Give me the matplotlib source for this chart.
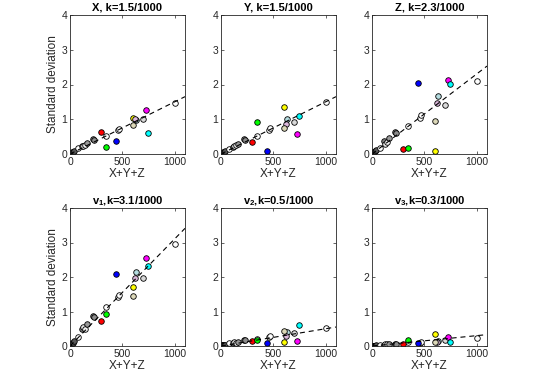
import numpy as np
import matplotlib
matplotlib.use("Agg")
import matplotlib.pyplot as plt

plt.rcParams['font.family'] = ['Liberation Sans', 'DejaVu Sans']
plt.rcParams['mathtext.fontset'] = 'custom'
plt.rcParams['mathtext.rm'] = 'Liberation Sans'
plt.rcParams['mathtext.bf'] = 'Liberation Sans:bold'

# --- data ---
# x = X+Y+Z for each sample: gray-shaded samples first, then the coloured ones
x_sum = [2, 5, 9, 14, 20, 28, 40, 77, 115, 125, 140, 160, 220, 230, 347, 458, 465, 700, 1000,
         300, 343, 440, 606, 724, 744, 635, 622, 604]
face_colors = (
    ['0.0', '0.05', '0.1', '0.15', '0.2', '0.3', '0.35', '1.0', '0.5', '0.9', '0.95', '0.6',
     '0.5', '0.55', '1.0', '1.0', '1.0', '0.85', '1.0']
    + ['#ff0000', '#00ff00', '#0000ff', '#ffff00', '#ff00ff', '#00ffff',
       '#b4dce0', '#dcb8dc', '#dcd8b8']
)

std_X = [0.01, 0.02, 0.03, 0.04, 0.05, 0.07, 0.09, 0.16, 0.22, 0.23, 0.26, 0.31, 0.42, 0.40,
         0.52, 0.70, 0.72, 1.00, 1.47,
         0.64, 0.19, 0.36, 1.04, 1.28, 0.61, 0.97, 1.02, 0.83]
std_Y = [0.01, 0.02, 0.03, 0.04, 0.05, 0.07, 0.09, 0.13, 0.20, 0.23, 0.25, 0.30, 0.42, 0.40,
         0.52, 0.69, 0.74, 0.93, 1.50,
         0.34, 0.93, 0.09, 1.34, 0.57, 1.10, 1.01, 0.85, 0.76]
std_Z = [0.01, 0.02, 0.04, 0.05, 0.07, 0.09, 0.12, 0.16, 0.38, 0.30, 0.34, 0.45, 0.64, 0.61,
         0.81, 1.03, 1.12, 1.41, 2.10,
         0.13, 0.16, 2.03, 0.10, 2.13, 2.01, 1.68, 1.46, 0.96]
std_v1 = [0.01, 0.03, 0.05, 0.06, 0.08, 0.10, 0.14, 0.27, 0.50, 0.56, 0.48, 0.63, 0.87, 0.84,
          1.12, 1.43, 1.48, 1.96, 2.95,
          0.73, 0.93, 2.10, 1.72, 2.54, 2.33, 2.14, 1.96, 1.46]
std_v2 = [0.005, 0.01, 0.015, 0.02, 0.02, 0.03, 0.04, 0.08, 0.10, 0.11, 0.10, 0.12, 0.16, 0.17,
          0.19, 0.25, 0.29, 0.37, 0.51,
          0.15, 0.18, 0.08, 0.13, 0.15, 0.61, 0.41, 0.29, 0.43]
std_v3 = [0.002, 0.004, 0.006, 0.008, 0.01, 0.012, 0.015, 0.03, 0.04, 0.05, 0.05, 0.06, 0.07, 0.07,
          0.13, 0.10, 0.12, 0.16, 0.24,
          0.05, 0.17, 0.08, 0.34, 0.27, 0.13, 0.15, 0.13, 0.12]

panels = [
    ("X, k=1.5/1000", std_X, 1.5),
    ("Y, k=1.5/1000", std_Y, 1.5),
    ("Z, k=2.3/1000", std_Z, 2.3),
    (r"v$_{\mathbf{1}}$,k=3.1/1000", std_v1, 3.1),
    (r"v$_{\mathbf{2}}$,k=0.5/1000", std_v2, 0.5),
    (r"v$_{\mathbf{3}}$,k=0.3/1000", std_v3, 0.3),
]

W, H = 538, 377
fig = plt.figure(figsize=(W / 100, H / 100), dpi=100)

lefts = [70, 221, 372]
ax_w = 115
rows = [(15, 154), (208, 346)]
edge = '0.15'

for i, (title, std, k) in enumerate(panels):
    r, c = divmod(i, 3)
    top, bot = rows[r]
    ax = fig.add_axes([lefts[c] / W, 1 - bot / H, ax_w / W, (bot - top) / H])

    for xv, yv, fc in zip(x_sum, std, face_colors):
        ax.plot(xv, yv, 'o', ms=4.0, mfc=fc, mec='k', mew=0.6)

    # dashed fit line, drawn over the markers
    xl = np.array([0, 1100])
    line, = ax.plot(xl, k / 1000 * xl, 'k', lw=0.8)
    line.set_dashes([4.5, 3.5])

    ax.set_xlim(0, 1100)
    ax.set_ylim(0, 4)
    ax.set_xticks([0, 500, 1000])
    ax.set_yticks([0, 1, 2, 3, 4])
    ax.tick_params(direction='in', length=2.5, width=0.5, labelsize=7.5,
                   colors=edge, top=True, right=True, pad=2)
    for s in ax.spines.values():
        s.set_linewidth(0.6)
        s.set_color(edge)
    ax.set_title(title, fontsize=8, fontweight='bold', pad=3)
    ax.set_xlabel("X+Y+Z", fontsize=8.5, color=edge, labelpad=1)
    if c == 0:
        ax.set_ylabel("Standard deviation", fontsize=8.5, color=edge, labelpad=2)

fig.savefig("out.png", dpi=100)
